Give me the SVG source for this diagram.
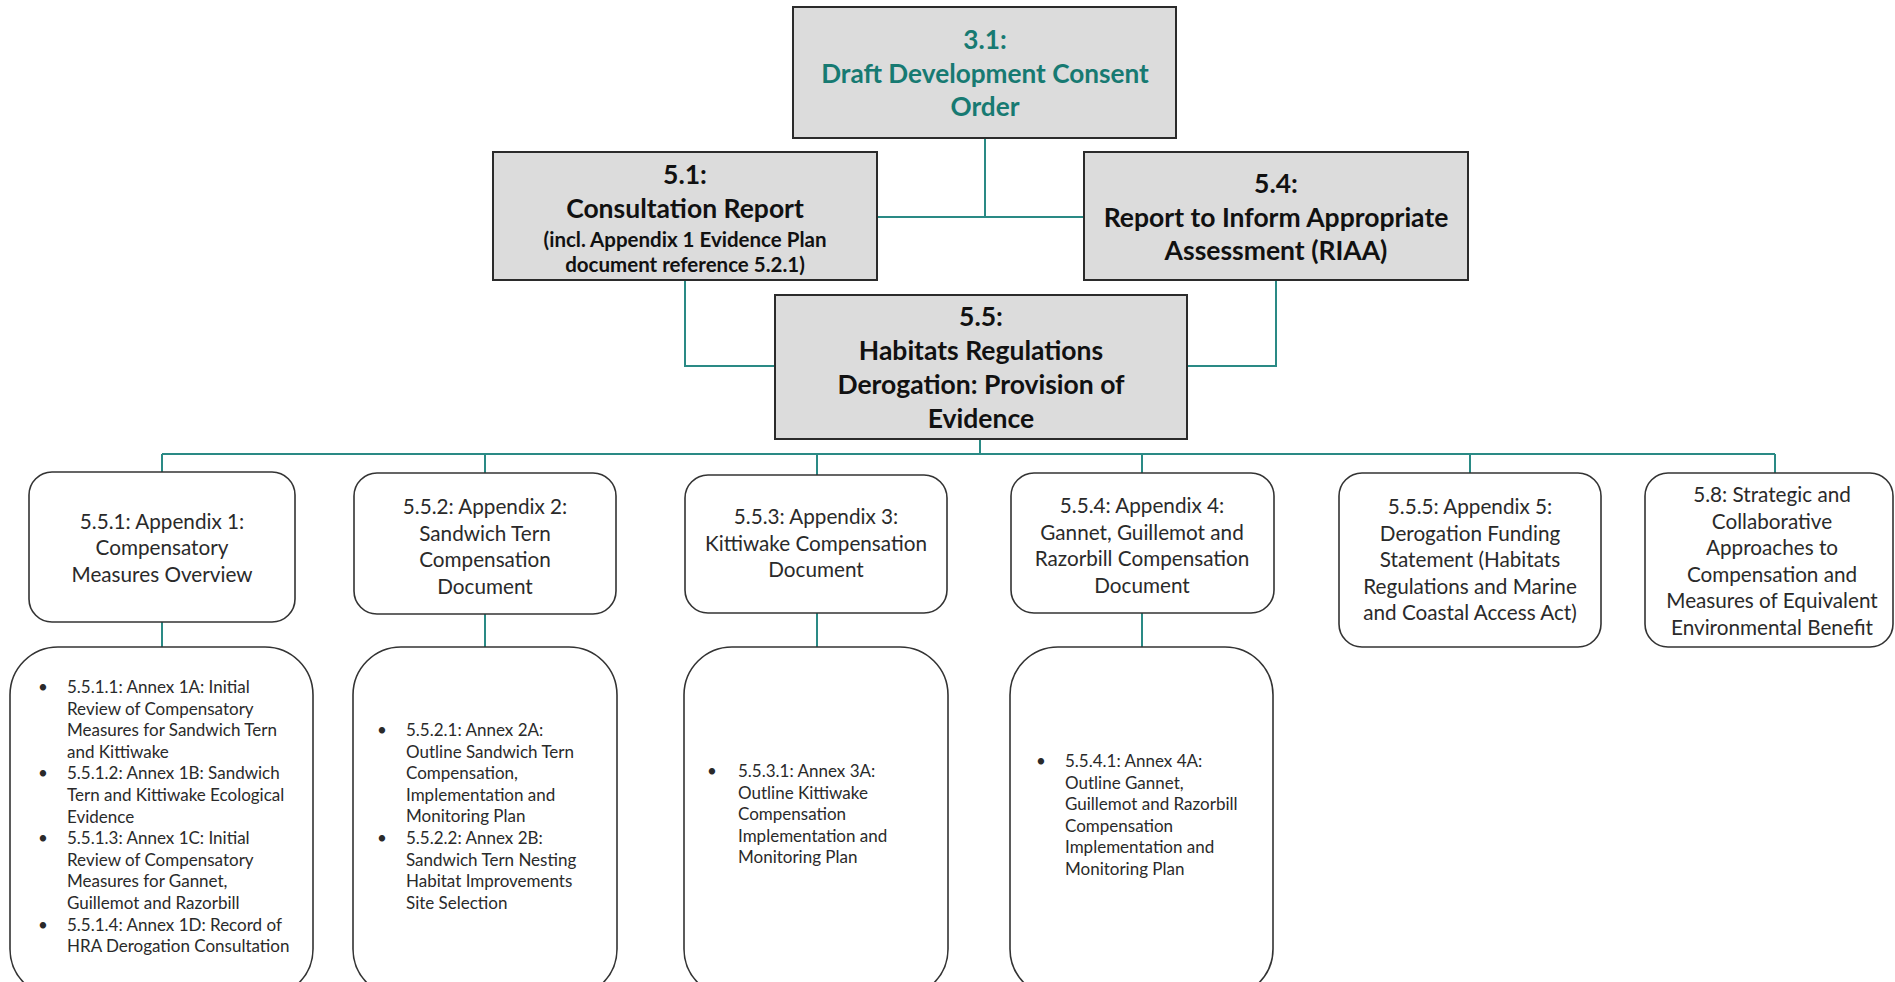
<svg xmlns="http://www.w3.org/2000/svg" width="1895" height="982" viewBox="0 0 1895 982">
<style>
.top{fill:#dcdcdc;stroke:#2b2b2b;stroke-width:2}
.rb{fill:#fff;stroke:#333;stroke-width:1.6}
.c{fill:none;stroke:#2a8a85;stroke-width:2}
.tb{font-family:Lato,"Open Sans",sans-serif;font-weight:700;font-size:26.5px;fill:#111;text-anchor:middle}
.tt{fill:#177a72;font-size:26.2px}
.ts{font-size:20.5px}
.t1{font-family:Lato,"Open Sans",sans-serif;font-size:20.7px;fill:#2a2a2a;text-anchor:middle}
.t2{font-family:Lato,"Open Sans",sans-serif;font-size:17px;fill:#2a2a2a}
</style>
<rect width="1895" height="982" fill="#fff"/>
<g id="connectors">
<path class="c" d="M985,138V217M877,217H1084"/>
<path class="c" d="M685,280V366H775"/>
<path class="c" d="M1276,280V366H1187"/>
<path class="c" d="M980,439V454M162,454H1775"/>
<path class="c" d="M162,454V472M485,454V473M817,454V475M1142,454V473M1470,454V473M1775,454V473"/>
<path class="c" d="M162,622V647M485,614V647M817,613V647M1142,613V647"/>
</g>
<g id="n31">
<rect class="top" x="793" y="7" width="383" height="131"/>
<text class="tb tt" x="985" y="48.5">3.1:</text>
<text class="tb tt" x="985" y="82.5">Draft Development Consent</text>
<text class="tb tt" x="985" y="115.5">Order</text>
</g>
<g id="n51">
<rect class="top" x="493" y="152" width="384" height="128"/>
<text class="tb" x="685" y="184">5.1:</text>
<text class="tb" x="685" y="217.5">Consultation Report</text>
<text class="tb ts" x="685" y="246.5">(incl. Appendix 1 Evidence Plan</text>
<text class="tb ts" x="685" y="272">document reference 5.2.1)</text>
</g>
<g id="n54">
<rect class="top" x="1084" y="152" width="384" height="128"/>
<text class="tb" x="1276" y="192.5">5.4:</text>
<text class="tb" x="1276" y="227">Report to Inform Appropriate</text>
<text class="tb" x="1276" y="260">Assessment (RIAA)</text>
</g>
<g id="n55">
<rect class="top" x="775" y="295" width="412" height="144"/>
<text class="tb" x="981" y="325.5">5.5:</text>
<text class="tb" x="981" y="360">Habitats Regulations</text>
<text class="tb" x="981" y="394">Derogation: Provision of</text>
<text class="tb" x="981" y="427.5">Evidence</text>
</g>
<g id="n551">
<rect class="rb" x="29" y="472" width="266" height="150" rx="23"/>
<text class="t1" x="162" y="529">5.5.1: Appendix 1:</text>
<text class="t1" x="162" y="555">Compensatory</text>
<text class="t1" x="162" y="582">Measures Overview</text>
</g>
<g id="n552">
<rect class="rb" x="354" y="473" width="262" height="141" rx="23"/>
<text class="t1" x="485" y="514">5.5.2: Appendix 2:</text>
<text class="t1" x="485" y="540.5">Sandwich Tern</text>
<text class="t1" x="485" y="567">Compensation</text>
<text class="t1" x="485" y="593.5">Document</text>
</g>
<g id="n553">
<rect class="rb" x="685" y="475" width="262" height="138" rx="23"/>
<text class="t1" x="816" y="524">5.5.3: Appendix 3:</text>
<text class="t1" x="816" y="550.5">Kittiwake Compensation</text>
<text class="t1" x="816" y="577">Document</text>
</g>
<g id="n554">
<rect class="rb" x="1011" y="473" width="263" height="140" rx="23"/>
<text class="t1" x="1142" y="513">5.5.4: Appendix 4:</text>
<text class="t1" x="1142" y="539.5">Gannet, Guillemot and</text>
<text class="t1" x="1142" y="566">Razorbill Compensation</text>
<text class="t1" x="1142" y="592.5">Document</text>
</g>
<g id="n555">
<rect class="rb" x="1339" y="473" width="262" height="174" rx="23"/>
<text class="t1" x="1470" y="514">5.5.5: Appendix 5:</text>
<text class="t1" x="1470" y="540.5">Derogation Funding</text>
<text class="t1" x="1470" y="567">Statement (Habitats</text>
<text class="t1" x="1470" y="593.5">Regulations and Marine</text>
<text class="t1" x="1470" y="620">and Coastal Access Act)</text>
</g>
<g id="n58">
<rect class="rb" x="1645" y="473" width="248" height="174" rx="23"/>
<text class="t1" x="1772" y="502">5.8: Strategic and</text>
<text class="t1" x="1772" y="528.5">Collaborative</text>
<text class="t1" x="1772" y="555">Approaches to</text>
<text class="t1" x="1772" y="581.5">Compensation and</text>
<text class="t1" x="1772" y="608">Measures of Equivalent</text>
<text class="t1" x="1772" y="634.5">Environmental Benefit</text>
</g>
<g id="a551">
<rect class="rb" x="10" y="647" width="303" height="350" rx="48"/>
<text class="t2" x="38" y="693">•</text><text class="t2" x="67" y="693">5.5.1.1: Annex 1A: Initial</text>
<text class="t2" x="67" y="714.6">Review of Compensatory</text>
<text class="t2" x="67" y="736.2">Measures for Sandwich Tern</text>
<text class="t2" x="67" y="757.8">and Kittiwake</text>
<text class="t2" x="38" y="779.4">•</text><text class="t2" x="67" y="779.4">5.5.1.2: Annex 1B: Sandwich</text>
<text class="t2" x="67" y="801">Tern and Kittiwake Ecological</text>
<text class="t2" x="67" y="822.6">Evidence</text>
<text class="t2" x="38" y="844.2">•</text><text class="t2" x="67" y="844.2">5.5.1.3: Annex 1C: Initial</text>
<text class="t2" x="67" y="865.8">Review of Compensatory</text>
<text class="t2" x="67" y="887.4">Measures for Gannet,</text>
<text class="t2" x="67" y="909">Guillemot and Razorbill</text>
<text class="t2" x="38" y="930.6">•</text><text class="t2" x="67" y="930.6">5.5.1.4: Annex 1D: Record of</text>
<text class="t2" x="67" y="952.2">HRA Derogation Consultation</text>
</g>
<g id="a552">
<rect class="rb" x="353" y="647" width="264" height="350" rx="48"/>
<text class="t2" x="377" y="736">•</text><text class="t2" x="406" y="736">5.5.2.1: Annex 2A:</text>
<text class="t2" x="406" y="757.6">Outline Sandwich Tern</text>
<text class="t2" x="406" y="779.2">Compensation,</text>
<text class="t2" x="406" y="800.8">Implementation and</text>
<text class="t2" x="406" y="822.4">Monitoring Plan</text>
<text class="t2" x="377" y="844">•</text><text class="t2" x="406" y="844">5.5.2.2: Annex 2B:</text>
<text class="t2" x="406" y="865.6">Sandwich Tern Nesting</text>
<text class="t2" x="406" y="887.2">Habitat Improvements</text>
<text class="t2" x="406" y="908.8">Site Selection</text>
</g>
<g id="a553">
<rect class="rb" x="684" y="647" width="264" height="350" rx="48"/>
<text class="t2" x="707" y="777">•</text><text class="t2" x="738" y="777">5.5.3.1: Annex 3A:</text>
<text class="t2" x="738" y="798.6">Outline Kittiwake</text>
<text class="t2" x="738" y="820.2">Compensation</text>
<text class="t2" x="738" y="841.8">Implementation and</text>
<text class="t2" x="738" y="863.4">Monitoring Plan</text>
</g>
<g id="a554">
<rect class="rb" x="1010" y="647" width="263" height="350" rx="48"/>
<text class="t2" x="1036" y="767">•</text><text class="t2" x="1065" y="767">5.5.4.1: Annex 4A:</text>
<text class="t2" x="1065" y="788.6">Outline Gannet,</text>
<text class="t2" x="1065" y="810.2">Guillemot and Razorbill</text>
<text class="t2" x="1065" y="831.8">Compensation</text>
<text class="t2" x="1065" y="853.4">Implementation and</text>
<text class="t2" x="1065" y="875">Monitoring Plan</text>
</g>
</svg>
